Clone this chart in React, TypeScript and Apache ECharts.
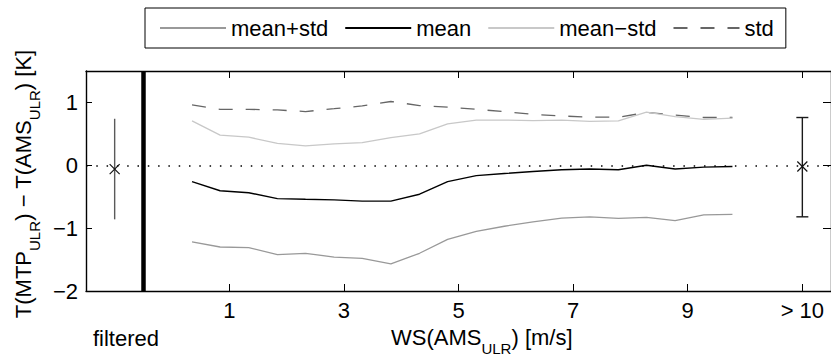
import React, { useEffect, useRef } from "react";
import * as echarts from "echarts";

const FONT = "'Liberation Sans', Arial, Helvetica, sans-serif";

// bin centres of WS(AMS_ULR) [m/s]
const binX = [0.35, 0.84, 1.34, 1.84, 2.33, 2.83, 3.32, 3.82, 4.32, 4.81, 5.31, 5.8, 6.3, 6.8, 7.29, 7.79, 8.28, 8.78, 9.28, 9.78];
const meanVals = [-0.26, -0.405, -0.437, -0.53, -0.54, -0.55, -0.57, -0.57, -0.46, -0.26, -0.165, -0.13, -0.1, -0.07, -0.06, -0.07, 0.0, -0.06, -0.03, -0.02];
// drawn in medium grey (labelled "mean+std" in the legend)
const lowerBand = [-1.22, -1.3, -1.31, -1.42, -1.4, -1.46, -1.48, -1.57, -1.4, -1.18, -1.05, -0.97, -0.9, -0.84, -0.82, -0.845, -0.83, -0.88, -0.79, -0.78];
// drawn in light grey (labelled "mean−std" in the legend)
const upperBand = [0.706, 0.48, 0.447, 0.35, 0.31, 0.34, 0.36, 0.44, 0.5, 0.66, 0.72, 0.72, 0.71, 0.72, 0.7, 0.705, 0.845, 0.775, 0.73, 0.75];
const stdVals = [0.96, 0.89, 0.89, 0.88, 0.855, 0.9, 0.945, 1.015, 0.95, 0.925, 0.89, 0.855, 0.81, 0.785, 0.765, 0.765, 0.84, 0.8, 0.76, 0.76];

// error bars: [x, mean, low, high, hasCaps]
const errorBars = [
  [-1, -0.06, -0.86, 0.74, 0],
  [11, -0.02, -0.82, 0.76, 1],
];
const errorColors = ["#5a5a5a", "#1a1a1a"];

const xTickValues = [1, 3, 5, 7, 9, 11];
const xTickLabels = ["1", "3", "5", "7", "9", "> 10"];
const yTickValues = [-2, -1, 0, 1];
const yTickLabels = ["\u22122", "\u22121", "0", "1"];

const legendNames = ["mean+std", "mean", "mean\u2212std", "std"];
const filterBoundary = -0.5;

const zip = (xs: number[], ys: number[]) => xs.map((x, i) => [x, ys[i]]);

export default function App() {
  const ref = useRef<HTMLDivElement>(null);
  useEffect(() => {
    if (!ref.current) return;
    const chart = echarts.init(ref.current, null, { renderer: "svg" });
    const axisLine = { show: true, onZero: false, lineStyle: { color: "#000", width: 1.4 } };
    const tickStyle = { color: "#000", width: 1 };
    const option: any = {
      animation: false,
      backgroundColor: "#fff",
      textStyle: { fontFamily: FONT },
      grid: { left: 86, top: 71, width: 750, height: 220, containLabel: false },
      legend: {
        left: 145,
        top: 8,
        data: legendNames,
        itemWidth: 66,
        itemHeight: 14,
        itemGap: 16,
        padding: [9, 12, 9, 14],
        borderColor: "#000",
        borderWidth: 1,
        selectedMode: false,
        itemStyle: { opacity: 0 },
        textStyle: { fontSize: 22, color: "#000", fontFamily: FONT },
      },
      xAxis: [
        {
          type: "value",
          min: -1.5,
          max: 11.5,
          position: "bottom",
          axisLine,
          axisTick: { show: true, inside: true, length: 7, customValues: xTickValues, lineStyle: tickStyle },
          axisLabel: {
            customValues: xTickValues,
            formatter: (v: number) => xTickLabels[xTickValues.indexOf(v)] ?? "",
            fontSize: 22,
            color: "#000",
            margin: 8,
            fontFamily: FONT,
          },
          splitLine: { show: false },
        },
        {
          type: "value",
          min: -1.5,
          max: 11.5,
          position: "top",
          axisLine,
          axisTick: { show: true, inside: true, length: 7, customValues: xTickValues, lineStyle: tickStyle },
          axisLabel: { show: false },
          splitLine: { show: false },
        },
      ],
      yAxis: [
        {
          type: "value",
          min: -2,
          max: 1.5,
          position: "left",
          axisLine,
          axisTick: { show: true, inside: true, length: 6, customValues: yTickValues, lineStyle: tickStyle },
          axisLabel: {
            customValues: yTickValues,
            formatter: (v: number) => yTickLabels[yTickValues.indexOf(v)] ?? "",
            fontSize: 22,
            color: "#000",
            margin: 8,
            fontFamily: FONT,
          },
          splitLine: { show: false },
        },
        {
          type: "value",
          min: -2,
          max: 1.5,
          position: "right",
          axisLine,
          axisTick: { show: true, inside: true, length: 8, customValues: yTickValues, lineStyle: tickStyle },
          axisLabel: { show: false },
          splitLine: { show: false },
        },
      ],
      series: [
        {
          name: "std",
          type: "line",
          data: zip(binX, stdVals),
          symbol: "none",
          lineStyle: { color: "#666", width: 1.3, type: [14, 13] },
          itemStyle: { color: "#666" },
          z: 3,
        },
        {
          name: "mean\u2212std",
          type: "line",
          data: zip(binX, upperBand),
          symbol: "none",
          lineStyle: { color: "#c8c8c8", width: 1.3 },
          itemStyle: { color: "#c8c8c8" },
          z: 4,
        },
        {
          name: "mean+std",
          type: "line",
          data: zip(binX, lowerBand),
          symbol: "none",
          lineStyle: { color: "#999", width: 1.3 },
          itemStyle: { color: "#999" },
          z: 4,
        },
        {
          name: "mean",
          type: "line",
          data: zip(binX, meanVals),
          symbol: "none",
          lineStyle: { color: "#000", width: 1.4 },
          itemStyle: { color: "#000" },
          z: 5,
          markLine: {
            silent: true,
            symbol: ["none", "none"],
            label: { show: false },
            data: [
              { yAxis: 0, lineStyle: { color: "#000", width: 1.6, type: [1.5, 8.8] } },
              { xAxis: filterBoundary, lineStyle: { color: "#000", width: 4.5, type: "solid" } },
            ],
          },
        },
        {
          name: "errorbars",
          type: "custom",
          data: errorBars,
          encode: { x: 0, y: [1, 2, 3] },
          z: 6,
          renderItem: (params: any, api: any) => {
            const x = api.value(0);
            const m = api.value(1);
            const lo = api.value(2);
            const hi = api.value(3);
            const caps = api.value(4);
            const pHi = api.coord([x, hi]);
            const pLo = api.coord([x, lo]);
            const pM = api.coord([x, m]);
            const color = errorColors[params.dataIndex];
            const st = { stroke: color, lineWidth: 1.4 };
            const children: any[] = [
              { type: "line", shape: { x1: pHi[0], y1: pHi[1], x2: pLo[0], y2: pLo[1] }, style: st },
              { type: "line", shape: { x1: pM[0] - 5, y1: pM[1] - 5, x2: pM[0] + 5, y2: pM[1] + 5 }, style: { stroke: "#111", lineWidth: 1.2 } },
              { type: "line", shape: { x1: pM[0] - 5, y1: pM[1] + 5, x2: pM[0] + 5, y2: pM[1] - 5 }, style: { stroke: "#111", lineWidth: 1.2 } },
            ];
            if (caps) {
              children.push({ type: "line", shape: { x1: pHi[0] - 6, y1: pHi[1], x2: pHi[0] + 6, y2: pHi[1] }, style: st });
              children.push({ type: "line", shape: { x1: pLo[0] - 6, y1: pLo[1], x2: pLo[0] + 6, y2: pLo[1] }, style: st });
            }
            return { type: "group", children };
          },
        },
      ],
      graphic: [
        {
          type: "text",
          x: 126,
          y: 338,
          style: { text: "filtered", fontSize: 22, fontFamily: FONT, fill: "#000", align: "center", verticalAlign: "middle" },
        },
        {
          type: "text",
          x: 391,
          y: 326,
          style: {
            text: "{b|WS(AMS}{s|ULR}{b|) [m/s]}",
            fontFamily: FONT,
            fill: "#000",
            align: "left",
            verticalAlign: "top",
            rich: {
              b: { fontSize: 22, lineHeight: 22, verticalAlign: "top", fill: "#000", fontFamily: FONT },
              s: { fontSize: 15, lineHeight: 44, verticalAlign: "middle", fill: "#000", fontFamily: FONT },
            },
          },
        },
        {
          type: "text",
          x: 34,
          y: 184,
          rotation: Math.PI / 2,
          style: {
            text: "{b|T(MTP}{s|ULR}{b|) \u2212 T(AMS}{s|ULR}{b|) [K]}",
            fontFamily: FONT,
            fill: "#000",
            align: "center",
            verticalAlign: "middle",
            rich: {
              b: { fontSize: 22, lineHeight: 22, verticalAlign: "top", fill: "#000", fontFamily: FONT },
              s: { fontSize: 15, lineHeight: 44, verticalAlign: "middle", fill: "#000", fontFamily: FONT },
            },
          },
        },
      ],
    };
    chart.setOption(option);
    return () => chart.dispose();
  }, []);
  return <div ref={ref} style={{ position: "absolute", left: 0, top: 0, width: 831, height: 357 }} />;
}
